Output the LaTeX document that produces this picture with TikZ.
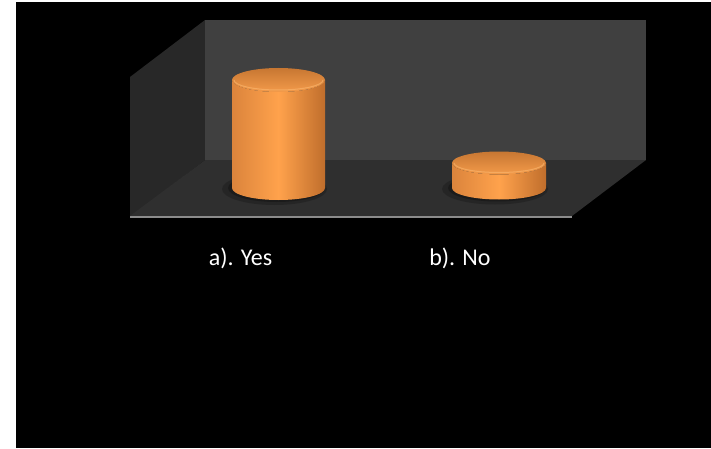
\documentclass[tikz,border=0pt]{standalone}
\usepackage{fontspec}
\setmainfont{Carlito}
\definecolor{sidewall}{HTML}{282828}
\definecolor{backwall}{HTML}{404040}
\definecolor{floorc}{HTML}{2F2F2F}
\definecolor{edgec}{HTML}{8C8C8C}
\definecolor{orL}{HTML}{DB843C}
\definecolor{orM}{HTML}{FFA24C}
\definecolor{orR}{HTML}{C06E2C}
\definecolor{topA}{HTML}{C77732}
\definecolor{topB}{HTML}{F39A4A}
\definecolor{rimc}{HTML}{FFC07A}
\tikzset{
  lbl/.style={text=white, font=\fontsize{24}{28}\selectfont, anchor=base, inner sep=0pt},
}
\newcommand\mycyl[5]{% cx, rx, ry, ytop, ybot
  \fill[black, opacity=0.2] (#1-4,#5-1) ellipse[x radius=#2+6, y radius=#3+4];
  \fill[black, opacity=0.25] (#1-2,#5) ellipse[x radius=#2+2, y radius=#3+2];
  \shade[left color=orL, right color=orR, middle color=orM]
    (#1-#2,#4) -- (#1-#2,#5) arc[start angle=180, end angle=360, x radius=#2, y radius=#3]
    -- (#1+#2,#4) arc[start angle=0, end angle=-180, x radius=#2, y radius=#3] -- cycle;
  \shade[top color=topA, bottom color=topB] (#1,#4) ellipse[x radius=#2, y radius=#3];
  \draw[rimc, line width=1pt, opacity=0.5] (#1-#2+2,#4) arc[start angle=180, end angle=360, x radius=#2-2, y radius=#3-2];
}
\begin{document}
\begin{tikzpicture}[x=1pt,y=1pt]
\useasboundingbox (0,0) rectangle (711,448);
\fill[white] (0,0) rectangle (711,448);
\fill[black] (16,0) rectangle (711,446);
% walls and floor
\fill[sidewall] (130,371) -- (205,428) -- (205,288) -- (130,231) -- cycle;
\fill[backwall] (205,428) -- (646,428) -- (646,288) -- (205,288) -- cycle;
\fill[floorc] (205,288) -- (646,288) -- (572,232) -- (130,232) -- cycle;
\draw[edgec, line width=2pt] (130,231.5) -- (572,231.5);
% cylinders
\mycyl{278.5}{46.5}{12}{368}{260}
\mycyl{499}{47}{11.5}{285}{260}
% labels
\node[lbl] (yes) at (240.5,183) {a). Yes};
\node[lbl] (no) at (460,183) {b). No};
\end{tikzpicture}
\end{document}
